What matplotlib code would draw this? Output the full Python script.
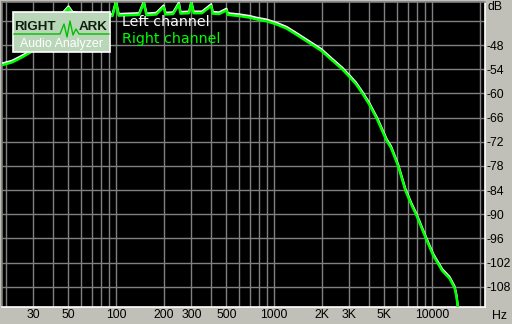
import matplotlib
matplotlib.use("Agg")
import matplotlib.pyplot as plt
from matplotlib.patches import Rectangle
from matplotlib.lines import Line2D

# ---- data ----
freq_hz = [19, 22, 25, 28.6, 33, 38, 43, 47, 50, 53, 60, 70, 80, 89, 95, 100, 104,
           120, 140, 150, 156, 180, 200, 206, 230, 250, 256, 290, 300, 310, 350,
           400, 410, 450, 500, 510, 600, 700, 770, 900, 1040, 1200, 1370, 1600,
           1990, 2300, 2700, 3000, 3300, 3650, 4000, 4500, 5170, 5500, 6100, 6800,
           7380, 8000, 9100, 10200, 11600, 12900, 13900, 14300, 14600]
right_db = [-53.0, -52.3, -51.2, -49.9, -47.5, -45.0, -42.0, -40.0, -38.8, -40.2,
            -40.5, -40.6, -40.7, -40.8, -40.8, -37.5, -40.7, -40.6, -40.5, -37.6,
            -40.6, -40.4, -38.6, -40.4, -40.3, -37.9, -40.2, -40.1, -37.6, -40.1,
            -40.1, -38.3, -40.2, -40.3, -39.4, -40.5, -40.8, -41.2, -41.6, -42.1,
            -42.9, -43.9, -45.3, -47.0, -49.4, -51.6, -54.0, -55.9, -57.7, -60.2,
            -62.7, -66.5, -71.8, -73.5, -78.0, -84.2, -87.5, -90.4, -95.8, -100.3,
            -104.0, -105.9, -108.3, -110.5, -113.5]
left_db = [v + 0.4 for v in right_db]

xtick_vals = [30, 50, 100, 200, 300, 500, 1000, 2000, 3000, 5000, 10000]
xtick_labels = ["30", "50", "100", "200", "300", "500", "1000", "2K", "3K", "5K", "10000"]
grid_freqs = [20, 30, 40, 50, 60, 70, 80, 90, 100, 200, 300, 400, 500, 600, 700, 800, 900,
              1000, 2000, 3000, 4000, 5000, 6000, 7000, 8000, 9000, 10000, 20000]
grid_db = [-42, -48, -54, -60, -66, -72, -78, -84, -90, -96, -102, -108]
ytick_vals = [-48, -54, -60, -66, -72, -78, -84, -90, -96, -102, -108]
ytick_labels = ["-48", "-54", "-60", "-66", "-72", "-78", "-84", "-90", "-96", "-102", "-108"]

BG = "#c0bfb8"
GRID = "#808080"
FONT = ["Liberation Sans", "DejaVu Sans"]
LS = 8.8

W, H = 512, 324
fig = plt.figure(figsize=(W / 100, H / 100), dpi=100, facecolor=BG)
ax = fig.add_axes([1.5 / W, (H - 307) / H, (485 - 1.5) / W, (307 - 1.5) / H])
ax.set_facecolor("black")
ax.set_xscale("log")
ax.set_xlim(18.85, 21650)
ax.set_ylim(-113.0, -37.2)

for f in grid_freqs:
    ax.axvline(f, color=GRID, lw=1.0, zorder=1)
for v in grid_db:
    ax.axhline(v, color=GRID, lw=1.0, zorder=1)

ax.plot(freq_hz, left_db, color="white", lw=1.6, zorder=3)
ax.plot(freq_hz, right_db, color="#00ff00", lw=1.8, zorder=4)

ax.xaxis.set_minor_locator(matplotlib.ticker.NullLocator())
ax.set_xticks(xtick_vals)
ax.set_xticklabels(xtick_labels, family=FONT)
ax.set_yticks(ytick_vals)
ax.set_yticklabels(ytick_labels, family=FONT)
ax.yaxis.tick_right()
ax.tick_params(axis="both", length=0, labelsize=LS, colors="black")
ax.tick_params(axis="x", pad=1.5)
ax.tick_params(axis="y", pad=1.0)
for lab in ax.get_yticklabels():
    lab.set_horizontalalignment("left")

for side in ["top", "left"]:
    ax.spines[side].set_color(GRID)
for side in ["bottom", "right"]:
    ax.spines[side].set_color("white")
for s in ax.spines.values():
    s.set_linewidth(1.2)

fig.text(487.5 / W, 1 - 7 / H, "dB", fontsize=LS, family=FONT, ha="left", va="center", color="black")
fig.text(492 / W, 1 - 316 / H, "Hz", fontsize=LS, family=FONT, ha="left", va="center", color="black")

# legend texts
ax.text(122 / W, 1 - 22 / H, "Left channel", transform=fig.transFigure, fontsize=10.3,
        color="white", ha="left", va="center", zorder=6)
ax.text(122 / W, 1 - 38.5 / H, "Right channel", transform=fig.transFigure, fontsize=10.3,
        color="#00ff00", ha="left", va="center", zorder=6)

# logo
tf = fig.transFigure
def fx(px): return px / W
def fy(py): return 1 - py / H
logo = Rectangle((fx(12.5), fy(51.5)), fx(109.5) - fx(12.5), fy(12.5) - fy(51.5),
                 transform=tf, facecolor="#bad6b8", edgecolor="white", lw=1.2, zorder=7)
fig.patches.append(logo)
fig.text(fx(14.5), fy(27), "RIGHT", fontsize=9.6, fontweight="bold", color="#102010",
         family=FONT, ha="left", va="center", zorder=8)
fig.text(fx(107.5), fy(27), "ARK", fontsize=9.6, fontweight="bold", color="#102010",
         family=FONT, ha="right", va="center", zorder=8)
wx = [14, 60, 64, 67, 70, 73, 76, 79, 109]
wy = [34, 34, 24, 37, 21, 35, 29, 34, 34]
fig.lines.append(Line2D([fx(v) for v in wx], [fy(v) for v in wy], transform=tf,
                        color="#00c000", lw=1.0, zorder=8))
fig.text(fx(61), fy(43.5), "Audio Analyzer", fontsize=8.9, color="white",
         family=FONT, ha="center", va="center", zorder=8)

fig.savefig("out.png", dpi=100, facecolor=BG)
